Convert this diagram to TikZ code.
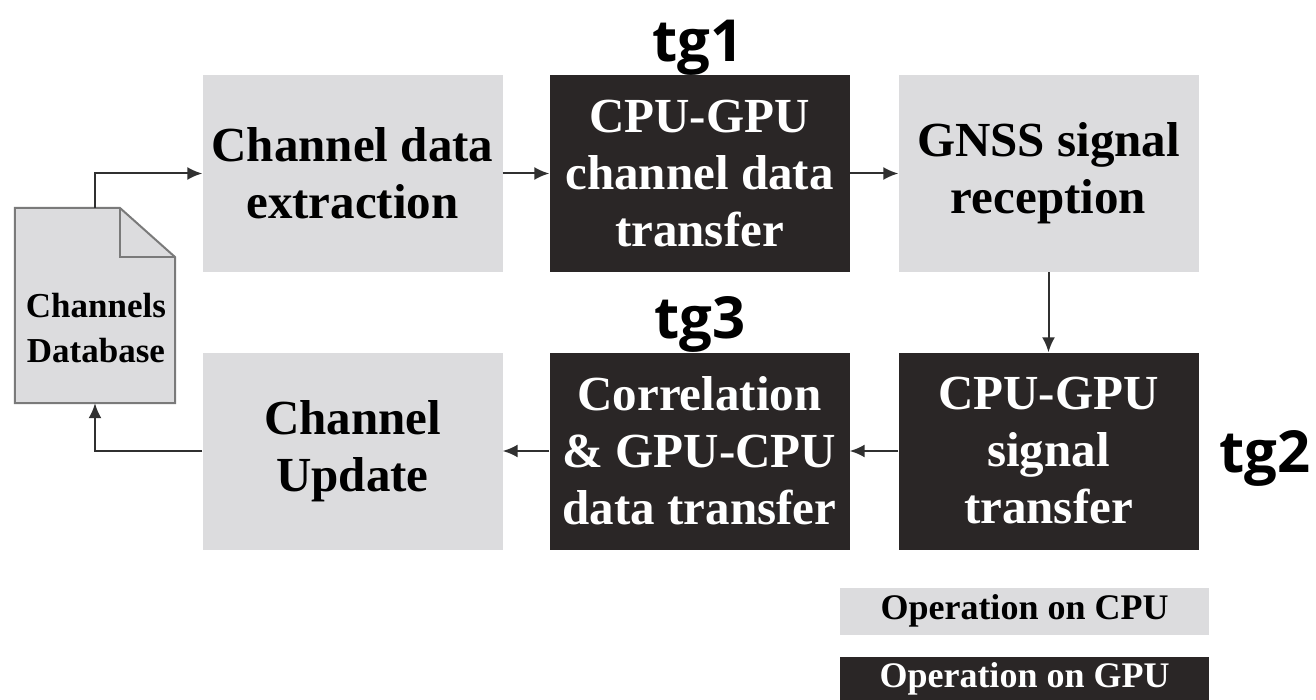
\documentclass[tikz,border=0pt]{standalone}
\usepackage{fontspec}
\setmainfont{Liberation Serif}
\newfontfamily\tagfont{Open Sans}
\usetikzlibrary{arrows.meta}

\definecolor{cpugray}{HTML}{DCDCDE}
\definecolor{gpudark}{HTML}{2A2626}
\definecolor{docline}{HTML}{7A7A7A}
\definecolor{arrowgray}{HTML}{303030}

\tikzset{
  stage/.style={rectangle, inner sep=0pt, minimum width=300pt, minimum height=197pt,
    align=center,
    font=\fontsize{49}{57}\selectfont\bfseries},
  cpustage/.style={stage, fill=cpugray, text=black},
  gpustage/.style={stage, fill=gpudark, text=white},
  legendbox/.style={rectangle, inner sep=0pt, minimum width=369pt, align=center,
    font=\fontsize{36}{40}\selectfont\bfseries},
  flow/.style={draw=arrowgray, line width=2pt,
    -{Latex[length=15pt,width=13pt]}},
  tag/.style={anchor=base, inner sep=0pt, font=\tagfont\fontsize{58}{60}\selectfont\bfseries}
}

\begin{document}
\begin{tikzpicture}[x=1pt, y=-1pt]
  \useasboundingbox (0,0) rectangle (1316,700);

  % processing stages
  \node[cpustage] (extract)  at (352.5,173.5) {Channel data\\extraction};
  \node[gpustage] (upload)   at (699.5,173.5) {CPU-GPU\\channel data\\transfer};
  \node[cpustage] (receive)  at (1048.5,173.5) {GNSS signal\\reception};
  \node[gpustage] (sigxfer)  at (1048.5,451) {CPU-GPU\\signal\\transfer};
  \node[gpustage] (correl)   at (699.5,451) {Correlation\\\& GPU-CPU\\data transfer};
  \node[cpustage] (update)   at (352.5,451) {Channel\\Update};

  % channels database drawn as a document with a folded corner
  \node[rectangle, inner sep=0pt, minimum width=160pt, minimum height=195pt] (db) at (95,305.5) {};
  \fill[cpugray] (db.north west) -- (120,208) -- (175,257) -- (db.south east) -- (db.south west) -- cycle;
  \draw[docline, line width=2pt, line join=miter]
    (db.north west) -- (120,208) -- (175,257) -- (db.south east) -- (db.south west) -- cycle;
  \draw[docline, line width=2pt] (120,208) -- (120,257) -- (175,257);
  \node[align=center, inner sep=0pt, font=\fontsize{35}{45}\selectfont\bfseries]
    (dbtext) at (96,328) {Channels\\Database};

  % data flow
  \draw[flow] (db.north) |- (extract.west);
  \draw[flow] (extract.east) -- (upload.west);
  \draw[flow] (upload.east) -- (receive.west);
  \draw[flow] (receive.south) -- (sigxfer.north);
  \draw[flow] (sigxfer.west) -- (correl.east);
  \draw[flow] (correl.west) -- (update.east);
  \draw[flow] (update.west) -| (db.south);

  % timing tags
  \node[tag] (tg1) at (698,62) {tg1};
  \node[tag] (tg3) at (700,338) {tg3};
  \node[tag] (tg2) at (1265,472) {tg2};

  % legend
  \node[legendbox, fill=cpugray, text=black, minimum height=47pt] (legcpu) at (1024.5,611) {\raisebox{-2pt}{Operation on CPU}};
  \node[legendbox, fill=gpudark, text=white, minimum height=44pt] (leggpu) at (1024.5,679) {Operation on GPU};
\end{tikzpicture}
\end{document}
